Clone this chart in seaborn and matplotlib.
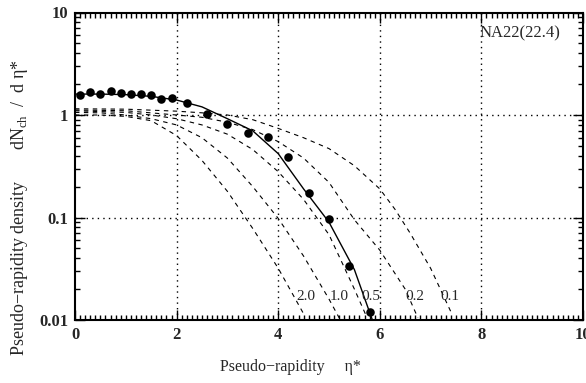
import matplotlib
matplotlib.use("Agg")
import matplotlib.pyplot as plt
import seaborn as sns
from matplotlib.ticker import MultipleLocator, LogLocator, NullFormatter

# measured points (NA22, 22.4)
eta_data = [0.1, 0.3, 0.5, 0.7, 0.9, 1.1, 1.3, 1.5, 1.7, 1.9, 2.2, 2.6, 3.0, 3.4, 3.8, 4.2, 4.6, 5.0, 5.4, 5.8]
dn_data = [1.57, 1.67, 1.62, 1.72, 1.65, 1.60, 1.60, 1.57, 1.43, 1.45, 1.32, 1.03, 0.81, 0.66, 0.61, 0.39, 0.175, 0.096, 0.034, 0.012]

# solid curve
eta_fit = [0.0, 0.5, 1.0, 1.5, 2.0, 2.5, 3.0, 3.5, 4.0, 4.5, 5.0, 5.5, 5.87]
dn_fit = [1.6, 1.6, 1.58, 1.52, 1.4, 1.2, 0.92, 0.7, 0.42, 0.19, 0.09, 0.031, 0.0095]

# dashed curves
eta_20 = [0.0, 0.5, 1.0, 1.5, 2.0, 2.5, 3.0, 3.5, 4.0, 4.5]
dn_20 = [1.0, 1.0, 0.97, 0.88, 0.63, 0.36, 0.18, 0.078, 0.032, 0.0115]
eta_10 = [0.0, 0.5, 1.0, 1.5, 2.0, 2.5, 3.0, 3.5, 4.0, 4.5, 5.0, 5.2]
dn_10 = [1.06, 1.05, 1.0, 0.92, 0.8, 0.6, 0.38, 0.2, 0.098, 0.042, 0.016, 0.0105]
eta_05 = [0.0, 1.0, 1.5, 2.0, 2.5, 3.0, 3.5, 4.0, 4.5, 5.0, 5.5, 5.75]
dn_05 = [1.10, 1.06, 1.0, 0.92, 0.8, 0.65, 0.46, 0.28, 0.15, 0.068, 0.02, 0.0105]
eta_02 = [0.0, 1.0, 2.0, 2.5, 3.0, 3.5, 4.0, 4.5, 5.0, 5.5, 6.0, 6.5, 6.75]
dn_02 = [1.12, 1.1, 1.0, 0.95, 0.85, 0.72, 0.55, 0.38, 0.22, 0.095, 0.048, 0.02, 0.0105]
eta_01 = [0.0, 1.0, 2.0, 2.5, 3.0, 3.5, 4.0, 4.5, 5.0, 5.5, 6.0, 6.3, 6.6, 7.0, 7.4]
dn_01 = [1.15, 1.14, 1.09, 1.05, 1.0, 0.9, 0.74, 0.6, 0.47, 0.32, 0.19, 0.12, 0.07, 0.032, 0.012]

curve_labels = ["2.0", "1.0", "0.5", "0.2", "0.1"]
label_x = [4.36, 5.02, 5.63, 6.5, 7.2]
label_y = 0.0171

sns.set_theme(style="ticks")
plt.rcParams["font.family"] = ["Liberation Serif", "DejaVu Serif"]
plt.rcParams["mathtext.fontset"] = "custom"
plt.rcParams["mathtext.rm"] = "Liberation Serif"

fig = plt.figure(figsize=(5.86, 3.83), dpi=100)
ax = fig.add_axes([75/586, 1-320/383, 508/586, 307.5/383])

ax.set_yscale("log")
ax.set_xlim(0, 10)
ax.set_ylim(0.01, 10)

for xs, ys in [(eta_20, dn_20), (eta_10, dn_10), (eta_05, dn_05), (eta_02, dn_02), (eta_01, dn_01)]:
    sns.lineplot(x=xs, y=ys, ax=ax, color="black", lw=0.8, linestyle=(0, (4, 4)), sort=False)
sns.lineplot(x=eta_fit, y=dn_fit, ax=ax, color="black", lw=1.0, sort=False)
sns.scatterplot(x=eta_data, y=dn_data, ax=ax, color="black", s=38, edgecolor="black", linewidth=0, zorder=5)

for lab, lx in zip(curve_labels, label_x):
    ax.text(lx, label_y, lab, fontsize=11, ha="left", va="center")

ax.text(0.797, 0.933, "NA22(22.4)", transform=ax.transAxes, fontsize=12, ha="left", va="center")

# dotted grid
for gx in [2, 4, 6, 8]:
    ax.axvline(gx, color="black", lw=1.0, linestyle=(0, (1, 3)), zorder=1)
for gy in [0.1, 1]:
    ax.axhline(gy, color="black", lw=1.0, linestyle=(0, (1, 3)), zorder=1)

ax.set_xticks([0, 2, 4, 6, 8, 10])
ax.set_xticklabels(["0", "2", "4", "6", "8", "10"], fontweight="bold", fontsize=12)
ax.xaxis.set_minor_locator(MultipleLocator(0.1))
ax.set_yticks([0.01, 0.1, 1, 10])
ax.set_yticklabels(["0.01", "0.1", "1", "10"], fontweight="bold", fontsize=12)
ax.yaxis.set_minor_locator(LogLocator(base=10, subs=range(2, 10)))
ax.yaxis.set_minor_formatter(NullFormatter())

ax.tick_params(which="both", direction="in", top=True, right=True, color="black", width=1.0)
ax.tick_params(which="major", length=7, pad=5)
ax.tick_params(which="minor", length=3.5)
for sp in ax.spines.values():
    sp.set_visible(True)
    sp.set_color("black")
    sp.set_linewidth(1.5)

ax.set_xlabel("")
ax.set_ylabel("")
fig.text(220/586, 1-367/383, "Pseudo\u2212rapidity     \u03b7*", fontsize=11.5, ha="left", va="center")
fig.text(20/586, 1-208/383,
         "Pseudo\u2212rapidity density       dN$_{\\mathrm{ch}}$  /  d \u03b7*",
         fontsize=13, rotation=90, ha="center", va="center")

fig.savefig("out.png", dpi=100)
